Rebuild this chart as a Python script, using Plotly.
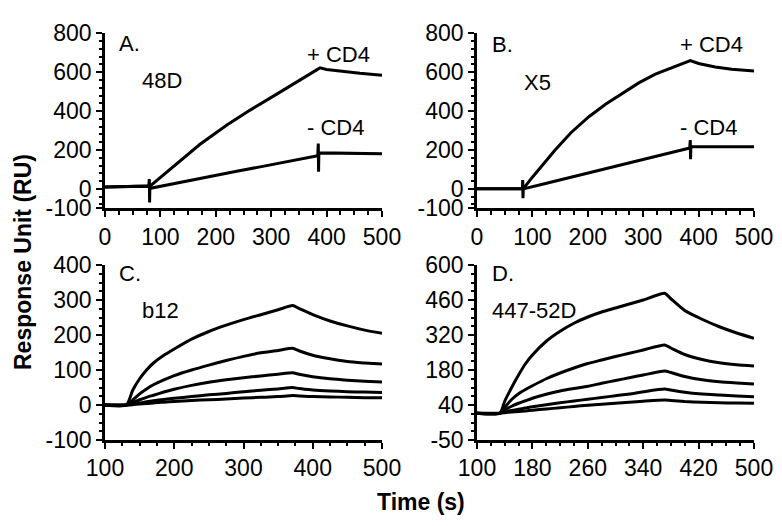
import plotly.graph_objects as go

# Panel A (48D)
a_plus_t = [0, 40, 79, 80, 80.5, 81, 84, 130, 171, 220, 262, 310, 350, 388, 400, 430, 460, 500]
a_plus_v = [9, 12, 15, 50, -70, 12, 20, 130, 228, 328, 405, 487, 556, 622, 614, 603, 594, 584]
a_minus_t = [0, 40, 79, 82, 120, 160, 200, 240, 280, 320, 360, 384, 385, 385.5, 386, 388, 420, 460, 500]
a_minus_v = [9, 12, 14, 3, 25, 48, 70, 92, 113, 135, 155, 170, 233, 88, 175, 185, 183, 181, 180]

# Panel B (X5)
b_plus_t = [0, 40, 82, 82.5, 83, 83.5, 100, 120, 141, 170, 202, 232, 262, 292, 322, 355, 385, 400, 430, 460, 500]
b_plus_v = [0, 0, 0, 45, -48, 0, 60, 130, 200, 290, 371, 435, 492, 545, 590, 628, 660, 645, 627, 615, 606]
b_minus_t = [0, 40, 82, 84, 120, 160, 200, 240, 280, 320, 360, 384, 385, 385.5, 386, 388, 420, 460, 500]
b_minus_v = [0, 0, 0, 0, 25, 53, 80, 108, 135, 163, 190, 210, 251, 153, 212, 217, 217, 216, 216]

# Panel C (b12)
c_t = [100, 131, 140, 150, 160, 170, 185, 200, 225, 250, 275, 300, 325, 350, 371, 380, 400, 425, 450, 475, 500]
c1 = [0, 0, 42, 75, 100, 120, 142, 160, 188, 210, 228, 244, 258, 272, 284, 276, 258, 240, 226, 214, 205]
c2 = [0, 0, 14, 32, 46, 58, 72, 84, 100, 114, 127, 139, 149, 156, 162, 155, 142, 132, 124, 120, 117]
c3 = [0, 0, 7, 15, 22, 28, 37, 45, 56, 65, 72, 78, 83, 88, 92, 88, 81, 75, 71, 68, 66]
c4 = [0, 0, 3, 6, 9, 12, 16, 19, 24, 29, 33, 38, 42, 46, 50, 47, 43, 40, 38, 37, 36]
c5 = [0, 0, 1, 3, 4, 6, 8, 10, 13, 15, 17, 20, 22, 24, 27, 26, 24, 23, 22, 21, 21]

# Panel D (447-52D)
d_t = [100, 133, 140, 150, 160, 170, 180, 200, 220, 240, 260, 280, 300, 320, 340, 371, 380, 400, 425, 450, 475, 500]
d1 = [7, 7, 55, 110, 160, 205, 240, 295, 335, 367, 392, 412, 428, 444, 460, 487, 465, 418, 383, 353, 328, 307]
d2 = [7, 7, 30, 62, 85, 102, 117, 145, 168, 188, 206, 220, 234, 247, 260, 280, 268, 242, 222, 209, 201, 196]
d3 = [7, 7, 20, 35, 47, 57, 67, 83, 96, 106, 115, 127, 138, 149, 160, 176, 170, 154, 141, 133, 128, 124]
d4 = [7, 7, 12, 18, 23, 28, 33, 41, 49, 56, 63, 70, 77, 84, 93, 104, 100, 91, 84, 80, 76, 73]
d5 = [7, 7, 9, 12, 14, 16, 19, 24, 29, 34, 39, 43, 47, 51, 55, 60, 58, 54, 51, 49, 48, 47]

ab_yticks = [-100, 0, 200, 400, 600, 800]
ab_yticktext = ["-100", "0", "200", "400", "600", "800"]
ab_xticks = [0, 100, 200, 300, 400, 500]
c_xticks = [100, 200, 300, 400, 500]
c_yticks = [-100, 0, 100, 200, 300, 400]
c_yticktext = ["-100", "0", "100", "200", "300", "400"]
d_yticks = [-100, 40, 180, 320, 460, 600]
d_yticktext = ["-50", "40", "180", "320", "460", "600"]
d_xticks = [100, 180, 260, 340, 420, 500]

FONT = "Liberation Sans, Arial, sans-serif"
OFF = 8  # page body margin in the browser
fig = go.Figure()

def add_line(x, y, xa, ya, shape="linear"):
    fig.add_trace(go.Scatter(x=x, y=y, mode="lines", xaxis=xa, yaxis=ya,
                             line=dict(color="black", width=3, shape=shape, smoothing=0.6),
                             showlegend=False, hoverinfo="skip"))

add_line(a_plus_t, a_plus_v, "x", "y")
add_line(a_minus_t, a_minus_v, "x", "y")
add_line(b_plus_t, b_plus_v, "x2", "y2")
add_line(b_minus_t, b_minus_v, "x2", "y2")
for s in [c1, c2, c3, c4, c5]:
    add_line(c_t, s, "x3", "y3", "spline")
for s in [d1, d2, d3, d4, d5]:
    add_line(d_t, s, "x4", "y4", "spline")

axis_style = dict(showline=True, linecolor="black", linewidth=2.5, showgrid=False,
                  zeroline=False, ticks="outside", ticklen=6, tickwidth=2,
                  tickcolor="black", automargin=False,
                  tickfont=dict(family=FONT, size=23, color="black"))

def px(v):
    return (v - OFF) / 782

def py(v):
    return 1 - (v - OFF) / 526

left = [px(105), px(382)]
right = [px(477), px(754)]
top = [py(208.3), py(33.3)]
bottom = [py(440), py(265)]

def minor(d, t0):
    return dict(ticks="outside", ticklen=3.5, tickwidth=1.5, tickcolor="black", dtick=d, tick0=t0)

fig.update_layout(
    xaxis=dict(domain=left, anchor="y", range=[0, 500], tickvals=ab_xticks,
               minor=minor(25, 0), **axis_style),
    yaxis=dict(domain=top, anchor="x", range=[-100, 800], tickvals=ab_yticks,
               ticktext=ab_yticktext, minor=minor(40, 0), **axis_style),
    xaxis2=dict(domain=right, anchor="y2", range=[0, 500], tickvals=ab_xticks,
                minor=minor(25, 0), **axis_style),
    yaxis2=dict(domain=top, anchor="x2", range=[-100, 800], tickvals=ab_yticks,
                ticktext=ab_yticktext, minor=minor(40, 0), **axis_style),
    xaxis3=dict(domain=left, anchor="y3", range=[100, 500], tickvals=c_xticks,
                minor=minor(25, 100), **axis_style),
    yaxis3=dict(domain=bottom, anchor="x3", range=[-100, 400], tickvals=c_yticks,
                ticktext=c_yticktext, minor=minor(25, 0), **axis_style),
    xaxis4=dict(domain=right, anchor="y4", range=[100, 500], tickvals=d_xticks,
                minor=minor(20, 100), **axis_style),
    yaxis4=dict(domain=bottom, anchor="x4", range=[-100, 600], tickvals=d_yticks,
                ticktext=d_yticktext, minor=minor(35, -100), **axis_style),
    width=782, height=526, autosize=False,
    margin=dict(l=0, r=0, t=0, b=0, autoexpand=False),
    plot_bgcolor="white", paper_bgcolor="white",
    font=dict(family=FONT, color="black"),
)

labels = [
    ("x", "y", 22, 748, "A."), ("x", "y", 63, 555, "48D"),
    ("x", "y", 361, 690, "+ CD4"), ("x", "y", 361, 316, "- CD4"),
    ("x2", "y2", 23, 740, "B."), ("x2", "y2", 81, 549, "X5"),
    ("x2", "y2", 363, 740, "+ CD4"), ("x2", "y2", 363, 313, "- CD4"),
    ("x3", "y3", 117, 377, "C."), ("x3", "y3", 150, 271, "b12"),
    ("x4", "y4", 119, 568, "D."), ("x4", "y4", 119, 420, "447-52D"),
]
for xr, yr, x, y, t in labels:
    fig.add_annotation(x=x, y=y, xref=xr, yref=yr, text=t, showarrow=False,
                       xanchor="left", yanchor="middle",
                       font=dict(family=FONT, size=22, color="black"))

fig.add_annotation(x=px(23), y=py(262), xref="paper", yref="paper",
                   text="<b>Response Unit (RU)</b>", textangle=-90, showarrow=False,
                   xanchor="center", yanchor="middle",
                   font=dict(family=FONT, size=23, color="black"))
fig.add_annotation(x=px(421), y=py(502), xref="paper", yref="paper",
                   text="<b>Time (s)</b>", showarrow=False,
                   xanchor="center", yanchor="middle",
                   font=dict(family=FONT, size=23, color="black"))

fig.write_html("out.html")
